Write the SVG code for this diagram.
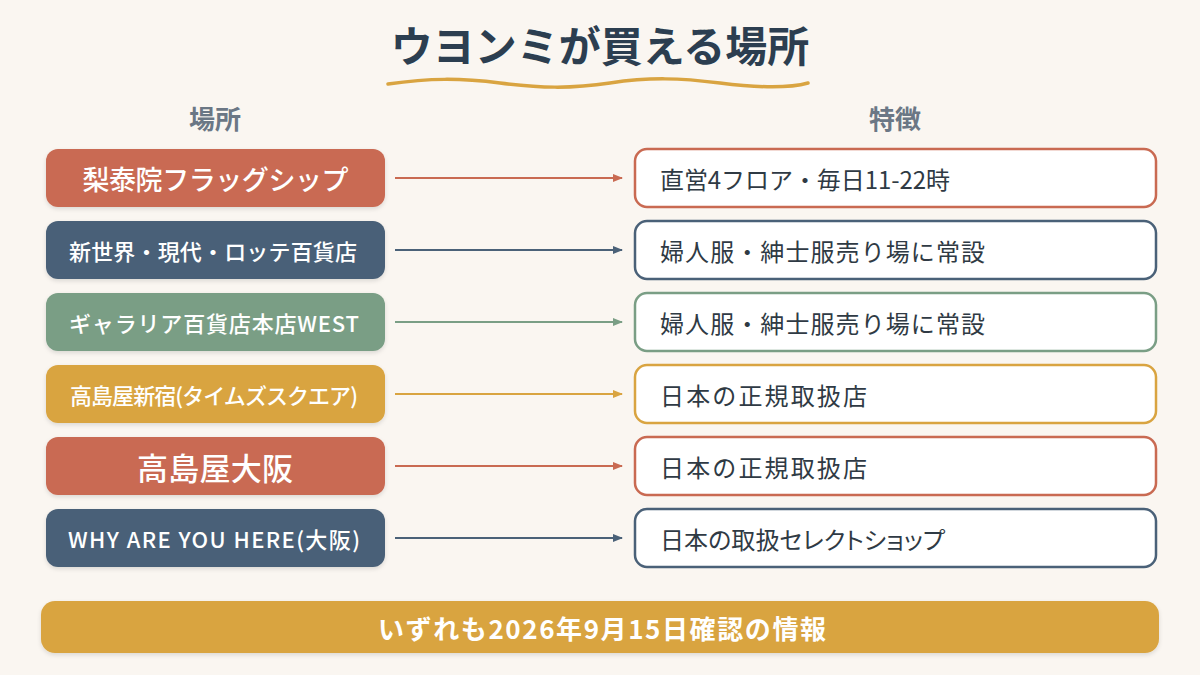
<svg xmlns="http://www.w3.org/2000/svg" width="1200" height="675" viewBox="0 0 1200 675">
<defs>
<style>
.t{font-family:"Noto Sans CJK JP","Noto Sans",sans-serif}
.lt{fill:#fff;text-anchor:middle;dominant-baseline:central;font-size:22px;font-weight:500}
.big{font-size:27px}
.big2{font-size:31px}
.rt{fill:#2f3a44;dominant-baseline:central;font-size:24px}
.rb{fill:#fff;stroke-width:2.5}
.hd{fill:#6b7785;font-size:26px;text-anchor:middle;font-weight:600}
.c{stroke-width:2;fill:none}
</style>
<filter id="sh" x="-10%" y="-20%" width="120%" height="150%"><feDropShadow dx="0" dy="2" stdDeviation="2" flood-color="#000" flood-opacity="0.12"/></filter>
<marker id="m1" markerWidth="10" markerHeight="10" refX="9" refY="5" orient="auto" markerUnits="userSpaceOnUse"><path d="M0,1 L10,5 L0,9Z" fill="#C96A52"/></marker>
<marker id="m2" markerWidth="10" markerHeight="10" refX="9" refY="5" orient="auto" markerUnits="userSpaceOnUse"><path d="M0,1 L10,5 L0,9Z" fill="#4A6178"/></marker>
<marker id="m3" markerWidth="10" markerHeight="10" refX="9" refY="5" orient="auto" markerUnits="userSpaceOnUse"><path d="M0,1 L10,5 L0,9Z" fill="#7A9E85"/></marker>
<marker id="m4" markerWidth="10" markerHeight="10" refX="9" refY="5" orient="auto" markerUnits="userSpaceOnUse"><path d="M0,1 L10,5 L0,9Z" fill="#D9A441"/></marker>
</defs>
<rect width="1200" height="675" fill="#FAF6F1"/>
<g id="title">
<text class="t" x="600" y="62" text-anchor="middle" font-size="42" font-weight="700" fill="#2C3E50">ウヨンミが買える場所</text>
<path d="M388,84 C430,78 460,78 500,83 S570,89 610,83 S680,78 720,83 S790,88 808,83" stroke="#D9A441" stroke-width="3.5" fill="none" stroke-linecap="round"/>
</g>
<g id="headers">
<text class="t hd" x="215" y="129">場所</text>
<text class="t hd" x="895" y="129">特徴</text>
</g>
<g id="connectors">
<line class="c" x1="395" y1="178" x2="622" y2="178" stroke="#C96A52" marker-end="url(#m1)"/>
<line class="c" x1="395" y1="250" x2="622" y2="250" stroke="#4A6178" marker-end="url(#m2)"/>
<line class="c" x1="395" y1="322" x2="622" y2="322" stroke="#7A9E85" marker-end="url(#m3)"/>
<line class="c" x1="395" y1="394" x2="622" y2="394" stroke="#D9A441" marker-end="url(#m4)"/>
<line class="c" x1="395" y1="466" x2="622" y2="466" stroke="#C96A52" marker-end="url(#m1)"/>
<line class="c" x1="395" y1="538" x2="622" y2="538" stroke="#4A6178" marker-end="url(#m2)"/>
</g>
<g id="l1"><rect x="46" y="149" width="339" height="58" rx="12" fill="#C96A52" filter="url(#sh)"/><text class="t lt big" x="215.5" y="178" textLength="266" lengthAdjust="spacing">梨泰院フラッグシップ</text></g>
<g id="l2"><rect x="46" y="221" width="339" height="58" rx="12" fill="#4A6178" filter="url(#sh)"/><text class="t lt" x="213" y="250" textLength="288" lengthAdjust="spacing">新世界・現代・ロッテ百貨店</text></g>
<g id="l3"><rect x="46" y="293" width="339" height="58" rx="12" fill="#7A9E85" filter="url(#sh)"/><text class="t lt" x="214" y="322" textLength="290" lengthAdjust="spacing">ギャラリア百貨店本店WEST</text></g>
<g id="l4"><rect x="46" y="365" width="339" height="58" rx="12" fill="#D9A441" filter="url(#sh)"/><text class="t lt" x="214" y="394" textLength="288" lengthAdjust="spacing">高島屋新宿(タイムズスクエア)</text></g>
<g id="l5"><rect x="46" y="437" width="339" height="58" rx="12" fill="#C96A52" filter="url(#sh)"/><text class="t lt big2" x="215" y="466" textLength="156" lengthAdjust="spacing">高島屋大阪</text></g>
<g id="l6"><rect x="46" y="509" width="339" height="58" rx="12" fill="#4A6178" filter="url(#sh)"/><text class="t lt" x="214" y="538" textLength="292" lengthAdjust="spacing">WHY ARE YOU HERE(大阪)</text></g>
<g id="r1"><rect class="rb" x="635" y="149" width="521" height="58" rx="12" stroke="#C96A52"/><text class="t rt" x="660" y="178" textLength="290" lengthAdjust="spacing">直営4フロア・毎日11-22時</text></g>
<g id="r2"><rect class="rb" x="635" y="221" width="521" height="58" rx="12" stroke="#4A6178"/><text class="t rt" x="660" y="250" textLength="325" lengthAdjust="spacing">婦人服・紳士服売り場に常設</text></g>
<g id="r3"><rect class="rb" x="635" y="293" width="521" height="58" rx="12" stroke="#7A9E85"/><text class="t rt" x="660" y="322" textLength="325" lengthAdjust="spacing">婦人服・紳士服売り場に常設</text></g>
<g id="r4"><rect class="rb" x="635" y="365" width="521" height="58" rx="12" stroke="#D9A441"/><text class="t rt" x="660" y="394" textLength="207" lengthAdjust="spacing">日本の正規取扱店</text></g>
<g id="r5"><rect class="rb" x="635" y="437" width="521" height="58" rx="12" stroke="#C96A52"/><text class="t rt" x="660" y="466" textLength="207" lengthAdjust="spacing">日本の正規取扱店</text></g>
<g id="r6"><rect class="rb" x="635" y="509" width="521" height="58" rx="12" stroke="#4A6178"/><text class="t rt" x="660" y="538" style="font-feature-settings:'palt'" textLength="285" lengthAdjust="spacing">日本の取扱セレクトショップ</text></g>
<g id="footer"><rect x="41" y="601" width="1118" height="52" rx="14" fill="#D9A441" filter="url(#sh)"/><text class="t" x="602" y="627" text-anchor="middle" dominant-baseline="central" font-size="26" font-weight="700" fill="#fff" textLength="448" lengthAdjust="spacing">いずれも2026年9月15日確認の情報</text></g>
</svg>
